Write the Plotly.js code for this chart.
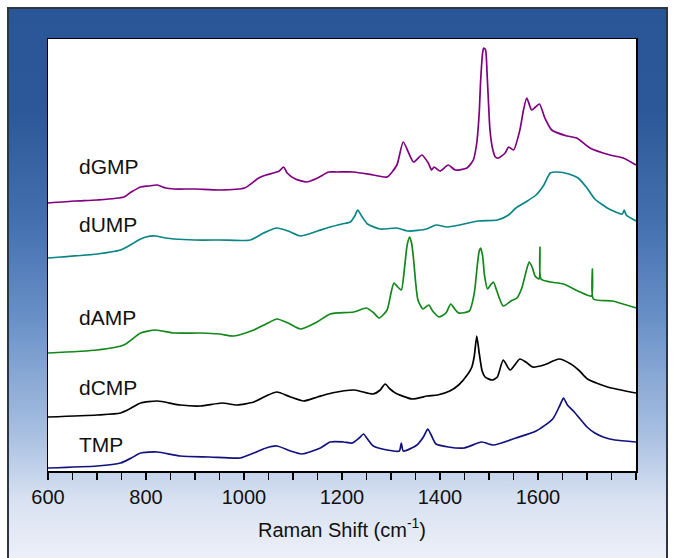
<!DOCTYPE html>
<html>
<head>
<meta charset="utf-8">
<script src="https://cdn.plot.ly/plotly-3.0.1.min.js"></script>
<style>
  html, body { margin: 0; padding: 0; background: #ffffff; width: 673px; height: 558px; overflow: hidden; }
  #frame {
    position: absolute; left: 7px; top: 7px; width: 657px; height: 560px;
    border: 2px solid #2e3440;
    background: linear-gradient(to bottom, #2a5596 0%, #2c5899 18%, #4470b0 38%, #6890c7 55%, #a5bde0 75%, #d9e2f2 88%, #f1f2f9 100%);
  }
  #plot { position: absolute; left: 0; top: 0; width: 673px; height: 558px; }
</style>
</head>
<body>
<div id="frame"></div>
<div id="plot"></div>
<script>
// Raman shift (cm^-1) and relative intensity (offset, arbitrary units)
const dGMP_x = [600,655,700,755,770,789,805,823,840,857,900,950,1001,1030,1045,1060,1072,1081,1088,1105,1128,1150,1173,1190,1224,1264,1292,1312,1325,1346,1363,1376,1383,1388,1400,1417,1431,1455,1468,1475,1480,1483,1487,1489,1493,1496,1499,1502,1507,1513,1519,1533,1540,1550,1563,1570,1577,1587,1595,1603,1614,1628,1659,1679,1706,1747,1774,1800];
const dGMP_y = [268,270,271,274,279,284,285,286,283,282,282,281,283,293,296,298,300,304,298,292,289,293,299,299,299,296,294,306,329,309,316,308,301,304,300,306,301,303,311,328,358,391,418,423,421,398,368,341,323,314,313,318,324,321,341,360,373,361,364,367,353,341,335,333,323,316,313,306];

const dUMP_x = [600,700,748,768,785,800,819,840,857,900,950,1013,1040,1067,1090,1115,1150,1176,1200,1217,1226,1232,1240,1252,1278,1312,1335,1373,1392,1414,1440,1478,1517,1540,1555,1575,1596,1612,1625,1640,1663,1682,1700,1716,1745,1772,1776,1780,1800];
const dUMP_y = [213,217,221,226,231,234,235,233,232,231,231,231,238,243,240,235,240,244,247,249,255,261,255,247,242,243,240,242,246,244,246,250,251,256,263,269,276,286,298,299,297,293,283,272,262,257,261,256,250];

const dAMP_x = [600,700,755,789,819,857,911,950,979,1020,1045,1067,1090,1115,1149,1176,1224,1250,1265,1276,1292,1300,1306,1314,1321,1328,1333,1338,1342,1346,1350,1355,1365,1377,1385,1398,1412,1422,1430,1438,1460,1470,1476,1480,1483,1487,1491,1497,1503,1509,1516,1529,1545,1557,1567,1576,1582,1588,1594,1602,1604,1606,1625,1652,1686,1709,1711,1713,1752,1800];
const dAMP_y = [118,121,126,138,141,138,138,137,135,141,147,152,148,142,149,157,159,163,158,153,161,178,188,184,181,205,226,234,228,212,190,171,162,166,160,154,158,167,162,158,160,178,205,220,223,215,195,182,186,189,180,165,170,173,183,200,209,204,195,192,224,192,189,187,179,175,202,172,170,163];

const dCMP_x = [600,700,748,770,789,823,870,911,955,986,1020,1045,1067,1095,1122,1150,1179,1225,1263,1278,1288,1298,1309,1343,1374,1395,1420,1438,1457,1465,1470,1475,1480,1486,1492,1506,1517,1529,1543,1563,1575,1589,1612,1643,1667,1685,1701,1742,1800];
const dCMP_y = [54,56,58,63,68,70,66,65,68,66,69,75,79,74,70,74,78,81,77,81,87,82,78,72,75,76,80,86,97,104,115,135,118,100,94,91,94,111,101,112,109,104,106,112,107,100,92,84,78];

const TMP_x = [600,700,748,770,789,823,870,930,992,1020,1045,1067,1095,1118,1156,1176,1203,1221,1235,1244,1252,1264,1292,1317,1321,1325,1353,1366,1375,1382,1392,1417,1449,1485,1509,1555,1596,1630,1645,1652,1660,1674,1700,1716,1733,1757,1800];
const TMP_y = [3,5,8,13,18,19,15,14,13,18,23,25,20,17,23,29,29,28,33,37,32,25,21,20,28,20,26,34,42,36,27,24,23,29,26,33,40,52,66,73,66,59,44,38,34,31,29];

const seriesNames = ["dGMP","dUMP","dAMP","dCMP","TMP"];
const seriesColors = ["#800080","#0a8585","#12871a","#000000","#12127e"];
const labelX = [660,660,660,660,660];
const labelY = [305,247,154,84,27];
const tickVals = [600,800,1000,1200,1400,1600];
const tickText = ["600","800","1000","1200","1400","1600"];

const xs = [dGMP_x,dUMP_x,dAMP_x,dCMP_x,TMP_x];
const ys = [dGMP_y,dUMP_y,dAMP_y,dCMP_y,TMP_y];

const traces = seriesNames.map((n,i)=>({
  x: xs[i], y: ys[i], type: 'scatter', mode: 'lines', name: n,
  line: {color: seriesColors[i], width: 1.7, shape: 'spline', smoothing: 0.6},
  hoverinfo: 'skip'
}));

const annotations = seriesNames.map((n,i)=>({
  x: labelX[i], y: labelY[i], xref: 'x', yref: 'y', text: n, showarrow: false,
  xanchor: 'left', yanchor: 'middle',
  font: {family: 'Liberation Sans, Arial, sans-serif', size: 21, color: '#111111'}
}));

const layout = {
  width: 673, height: 558,
  margin: {l: 48, r: 37, t: 39, b: 87},
  paper_bgcolor: 'rgba(0,0,0,0)',
  plot_bgcolor: '#ffffff',
  showlegend: false,
  font: {family: 'Liberation Sans, Arial, sans-serif', size: 20, color: '#111111'},
  xaxis: {
    range: [600, 1800], showgrid: false, zeroline: false,
    showline: true, mirror: true, linecolor: '#000000', linewidth: 1.5,
    ticks: 'outside', ticklen: 7, tickwidth: 1.3, tickcolor: '#000000',
    tickvals: tickVals, ticktext: tickText,
    tickfont: {size: 20, color: '#111111'},
    minor: {dtick: 50, tick0: 600, ticks: 'outside', ticklen: 7, tickwidth: 1.3, tickcolor: '#000000', showgrid: false},
    title: {text: 'Raman Shift (cm<sup>-1</sup>)', font: {size: 20, color: '#111111'}, standoff: 16}
  },
  yaxis: {
    range: [0, 432], showgrid: false, zeroline: false,
    showline: true, mirror: true, linecolor: '#000000', linewidth: 1.5,
    ticks: '', showticklabels: false
  },
  annotations: annotations
};

Plotly.newPlot('plot', traces, layout, {displayModeBar: false, staticPlot: true});
</script>
</body>
</html>
